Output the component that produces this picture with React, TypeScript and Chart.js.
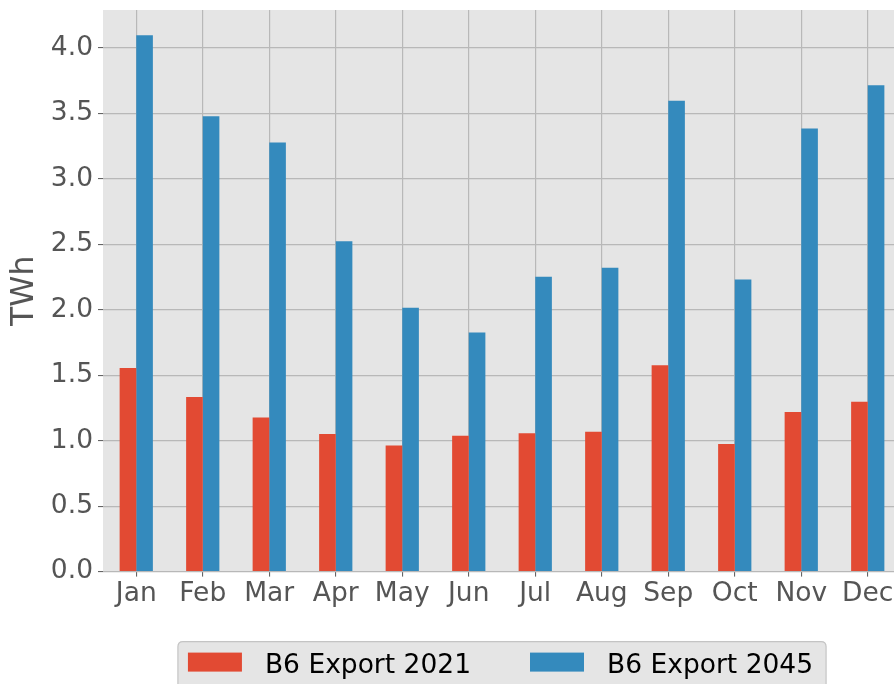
import React, { useEffect, useRef } from 'react';
import { Chart, registerables } from 'chart.js';

Chart.register(...registerables);

const months = ['Jan', 'Feb', 'Mar', 'Apr', 'May', 'Jun', 'Jul', 'Aug', 'Sep', 'Oct', 'Nov', 'Dec'];
const export2021 = [1.556, 1.334, 1.178, 1.051, 0.964, 1.038, 1.056, 1.069, 1.576, 0.975, 1.22, 1.298];
const export2045 = [4.097, 3.479, 3.278, 2.523, 2.015, 1.827, 2.252, 2.321, 3.596, 2.231, 3.385, 3.716];
const yTicks = [0, 0.5, 1.0, 1.5, 2.0, 2.5, 3.0, 3.5, 4.0];
const seriesLabels = ['B6 Export 2021', 'B6 Export 2045'];
const seriesColors = ['#E24A33', '#348ABD'];
const yAxisTitle = 'TWh';

const FONT = '"DejaVu Sans", "Liberation Sans", sans-serif';

const plotBg = {
  id: 'plotBg',
  beforeDraw(chart: any) {
    const { ctx, chartArea } = chart;
    ctx.save();
    ctx.fillStyle = '#E5E5E5';
    ctx.fillRect(chartArea.left, chartArea.top, chartArea.right - chartArea.left, chartArea.bottom - chartArea.top);
    ctx.restore();
  },
};

const boxLegend = {
  id: 'boxLegend',
  afterDraw(chart: any) {
    const { ctx, chartArea } = chart;
    const ds = chart.data.datasets;
    ctx.save();
    ctx.font = `26.5px ${FONT}`;
    const handleW = 54;
    const handleH = 19;
    const textPad = 23;
    const gap = 59;
    const padL = 10;
    const padR = 13;
    const widths = ds.map((d: any) => ctx.measureText(d.label).width);
    let total = padL + padR + gap * (ds.length - 1);
    widths.forEach((w: number) => (total += handleW + textPad + w));
    const cx = (chartArea.left + chartArea.right) / 2;
    const x0 = cx - total / 2;
    const top = chartArea.bottom + 70;
    const h = 52;
    const r = 5;
    ctx.beginPath();
    ctx.moveTo(x0 + r, top);
    ctx.lineTo(x0 + total - r, top);
    ctx.quadraticCurveTo(x0 + total, top, x0 + total, top + r);
    ctx.lineTo(x0 + total, top + h - r);
    ctx.quadraticCurveTo(x0 + total, top + h, x0 + total - r, top + h);
    ctx.lineTo(x0 + r, top + h);
    ctx.quadraticCurveTo(x0, top + h, x0, top + h - r);
    ctx.lineTo(x0, top + r);
    ctx.quadraticCurveTo(x0, top, x0 + r, top);
    ctx.closePath();
    ctx.fillStyle = '#E5E5E5';
    ctx.fill();
    ctx.strokeStyle = '#C4C4C4';
    ctx.lineWidth = 1.2;
    ctx.stroke();
    let x = x0 + padL;
    ds.forEach((d: any, i: number) => {
      ctx.fillStyle = d.backgroundColor;
      ctx.fillRect(x, top + 11, handleW, handleH);
      x += handleW + textPad;
      ctx.fillStyle = '#000000';
      ctx.textBaseline = 'alphabetic';
      ctx.textAlign = 'left';
      ctx.fillText(d.label, x, top + 31);
      x += widths[i] + gap;
    });
    ctx.restore();
  },
};

export default function App() {
  const ref = useRef<HTMLCanvasElement | null>(null);

  useEffect(() => {
    if (!ref.current) return;
    const gridCommon = {
      color: '#B8B8B8',
      lineWidth: 1.2,
      tickColor: '#555555',
      tickLength: 5,
      tickWidth: 1,
    };
    const chart = new Chart(ref.current, {
      type: 'bar',
      data: {
        labels: months,
        datasets: [
          {
            label: seriesLabels[0],
            data: export2021,
            backgroundColor: seriesColors[0],
            borderWidth: 0,
            categoryPercentage: 0.5,
            barPercentage: 1.0,
          },
          {
            label: seriesLabels[1],
            data: export2045,
            backgroundColor: seriesColors[1],
            borderWidth: 0,
            categoryPercentage: 0.5,
            barPercentage: 1.0,
          },
        ],
      },
      options: {
        animation: false,
        responsive: false,
        maintainAspectRatio: false,
        layout: { padding: { left: 0, right: 0, top: 10, bottom: 78.4 } },
        plugins: {
          legend: { display: false },
          tooltip: { enabled: false },
        },
        scales: {
          x: {
            grid: { ...gridCommon, offset: false },
            border: { display: false },
            ticks: {
              color: '#555555',
              font: { family: FONT, size: 26.5 },
              padding: 2,
              maxRotation: 0,
              autoSkip: false,
            },
            afterFit: (s: any) => {
              s.height = 50;
              s.paddingLeft = 0;
              s.paddingRight = 0;
            },
          },
          y: {
            min: 0,
            max: 4.29,
            grid: gridCommon,
            border: { display: false },
            ticks: {
              color: '#555555',
              font: { family: FONT, size: 26.5 },
              padding: 5,
              callback: (v: any) => Number(v).toFixed(1),
            },
            afterBuildTicks: (s: any) => {
              s.ticks = yTicks.map((v) => ({ value: v }));
            },
            afterFit: (s: any) => {
              s.width = 103;
              s.paddingTop = 0;
              s.paddingBottom = 0;
            },
            title: {
              display: true,
              text: yAxisTitle,
              color: '#555555',
              font: { family: FONT, size: 31.5 },
              padding: { top: 6, bottom: 0 },
            },
          },
        },
      },
      plugins: [plotBg, boxLegend],
    });
    return () => chart.destroy();
  }, []);

  return (
    <div style={{ position: 'fixed', left: 0, top: 0, width: 894, height: 684, overflow: 'hidden', background: '#FFFFFF' }}>
      <canvas ref={ref} width={901} height={700} style={{ width: 901, height: 700, display: 'block' }} />
    </div>
  );
}
